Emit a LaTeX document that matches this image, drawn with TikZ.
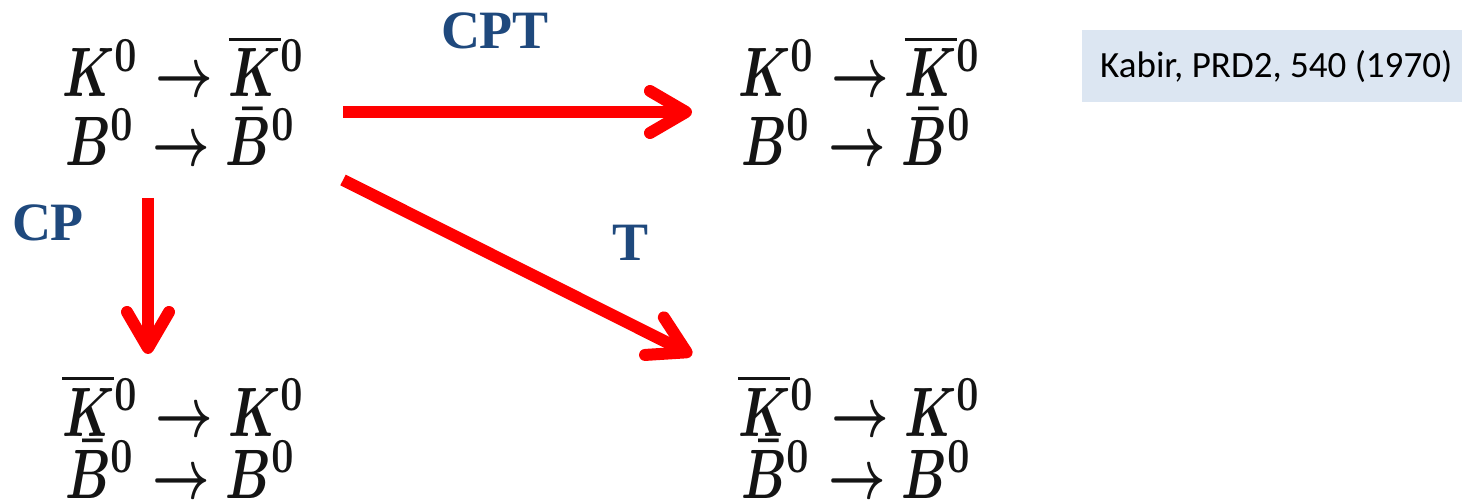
\documentclass[tikz,border=0pt]{standalone}
\usepackage{fontspec}
\usepackage{bm}
\newfontfamily\lblfont{Liberation Serif}
\newfontfamily\notefont{Carlito}
\usetikzlibrary{arrows.meta}
\definecolor{lblblue}{RGB}{31,73,125}
\definecolor{notebg}{RGB}{220,230,242}
\definecolor{arrred}{RGB}{255,0,0}
\definecolor{eqcol}{RGB}{20,20,20}
\begin{document}
\begin{tikzpicture}[x=1pt,y=-1pt,
  eq/.style={anchor=base west, inner sep=0pt, text=eqcol, font=\fontsize{10}{12}\selectfont},
  lbl/.style={text=lblblue, inner sep=0pt, font=\lblfont\bfseries\fontsize{54}{64}\selectfont},
  redarrow/.style={draw=arrred, line width=12pt,
    -{Straight Barb[length=36pt,width=42pt,line cap=round,line join=round]}},
  note/.style={fill=notebg, minimum width=380pt, minimum height=72pt, inner sep=0pt},
  notetext/.style={anchor=west, inner sep=0pt, font=\notefont\fontsize{37}{44}\selectfont}]
\useasboundingbox (0,0) rectangle (1467,502);
\newcommand{\sq}[1]{\scalebox{5.0}[7.0]{\boldmath$#1$}}
% top-left
\node[eq] (tl1) at (62,97) {\sq{K^0 \bm{\rightarrow} \overline{K}{}^0}};
\node[eq] (tl2) at (65,166) {\sq{B^0 \bm{\rightarrow} \bar{B}{}^0}};
% top-right
\node[eq] (tr1) at (738,97) {\sq{K^0 \bm{\rightarrow} \overline{K}{}^0}};
\node[eq] (tr2) at (741,166) {\sq{B^0 \bm{\rightarrow} \bar{B}{}^0}};
% bottom-left
\node[eq] (bl1) at (62,436) {\sq{\overline{K}{}^0 \bm{\rightarrow} K^0}};
\node[eq] (bl2) at (65,498) {\sq{\bar{B}{}^0 \bm{\rightarrow} B^0}};
% bottom-right
\node[eq] (br1) at (738,436) {\sq{\overline{K}{}^0 \bm{\rightarrow} K^0}};
\node[eq] (br2) at (741,498) {\sq{\bar{B}{}^0 \bm{\rightarrow} B^0}};
% labels
\node[lbl] (cpt) at (495,31) {CPT};
\node[lbl] (cp) at (48,223) {CP};
\node[lbl] (t) at (631,243) {T};
% note
\node[note] (kabir) at (1272,66) {};
\node[notetext] (kabirtext) at (1100,67) {Kabir, PRD2, 540 (1970)};
% arrow endpoints
\coordinate (h0) at (343,112);
\coordinate (h1) at (692,112);
\coordinate (d0) at (343,180);
\coordinate (d1) at (692,355);
\coordinate (v0) at (148,198);
\coordinate (v1) at (148,354);
\draw[redarrow] (h0) -- (h1);
\draw[redarrow] (d0) -- (d1);
\draw[redarrow] (v0) -- (v1);
\end{tikzpicture}
\end{document}
